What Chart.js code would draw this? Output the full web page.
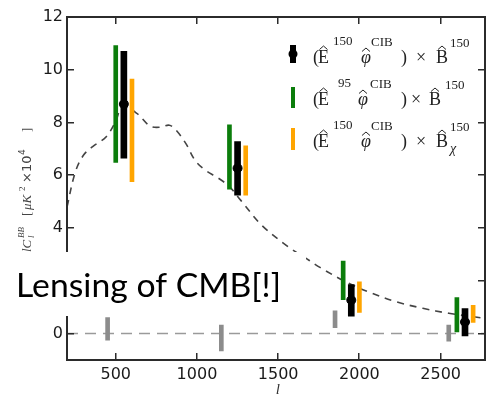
<!DOCTYPE html>
<html>
<head>
<meta charset="utf-8">
<script src="https://cdn.jsdelivr.net/npm/chart.js@4.4.0/dist/chart.umd.min.js"></script>
<style>
  html, body { margin: 0; padding: 0; background: #fff; }
  #wrap { width: 490px; height: 398px; }
</style>
</head>
<body>
<div id="wrap"><canvas id="cl-bb-chart"></canvas></div>
<script>
// multipole bins (small shifts so the three estimators do not overlap)
var binsMain = [550, 1250, 1950, 2650];
var binsE95  = [500, 1200, 1900, 2600];
var binsChi  = [600, 1300, 2000, 2700];
var binsNull = [450, 1150, 1850, 2550];

// (E150 phiCIB) x B150 : centre, low, high
var mainVal  = [8.70, 6.27, 1.27, 0.44];
var mainLow  = [6.65, 5.25, 0.66, -0.09];
var mainHigh = [10.70, 7.28, 1.86, 0.95];

// (E95 phiCIB) x B150
var e95Low  = [6.49, 5.47, 1.29, 0.06];
var e95High = [10.92, 7.91, 2.75, 1.37];

// (E150 phiCIB) x B150_chi
var chiLow  = [5.76, 5.25, 0.80, 0.42];
var chiHigh = [9.65, 7.12, 1.96, 1.07];

// null test (grey)
var nullLow  = [-0.25, -0.66, 0.23, -0.29];
var nullHigh = [0.61, 0.32, 0.86, 0.32];

// lensing B-mode model curve
var modelL = [200, 250, 300, 360, 440, 500, 540, 630, 710, 770, 830, 870, 930, 990, 1050, 1130, 1200, 1270, 1400, 1560, 1660, 1760, 1920, 2060, 2230, 2390, 2550, 2770];
var modelV = [4.8, 6.1, 6.75, 7.1, 7.45, 8.05, 8.6, 8.35, 7.87, 7.82, 7.9, 7.72, 7.22, 6.55, 6.2, 5.9, 5.57, 5.05, 4.1, 3.3, 2.9, 2.5, 1.95, 1.57, 1.2, 0.96, 0.77, 0.58];

var xTicks = [500, 1000, 1500, 2000, 2500];
var yTicks = [0, 2, 4, 6, 8, 10, 12];
var xRange = [200, 2770];
var yRange = [-1, 12];

function ranges(bins, lo, hi) {
    return bins.map(function (l, i) { return { x: l, y: [lo[i], hi[i]] }; });
}
function points(xs, ys) {
    return xs.map(function (l, i) { return { x: l, y: ys[i] }; });
}

// draws a run of text pieces, each at its own x with an optional raise
function richText(ctx, baseY, parts) {
    parts.forEach(function (p) {
        ctx.font = p.font;
        ctx.fillText(p.t, p.x, baseY + (p.dy || 0));
        if (p.hat) {
            var w = ctx.measureText(p.t).width;
            var cx = p.x + w / 2 + (p.hatShift || 0);
            var hy = baseY - p.hat;
            ctx.beginPath();
            ctx.moveTo(cx - 4, hy + 2.5);
            ctx.lineTo(cx, hy - 1);
            ctx.lineTo(cx + 4, hy + 2.5);
            ctx.lineWidth = 1;
            ctx.stroke();
        }
    });
}

var SERIF = '18px "Liberation Serif"';
var ISERIF = 'italic 18px "Liberation Serif"';
var SUP = '13px "Liberation Serif"';

var decor = {
    id: 'decor',
    afterDraw: function (chart) {
        var ctx = chart.ctx;
        var a = chart.chartArea;
        var xs = chart.scales.x, ys = chart.scales.y;
        ctx.save();
        ctx.setLineDash([]);
        ctx.globalAlpha = 1;

        // frame with inward ticks
        ctx.fillStyle = '#2b2b2b';
        var L = Math.round(a.left), T = Math.round(a.top), R = Math.round(a.right), B = Math.round(a.bottom);
        ctx.fillRect(L - 1, T - 1, 2, B - T + 2);
        ctx.fillRect(R - 1, T - 1, 2, B - T + 2);
        ctx.fillRect(L - 1, T - 1, R - L + 2, 2);
        ctx.fillRect(L - 1, B - 1, R - L + 2, 2);
        xTicks.forEach(function (v) {
            var px = Math.round(xs.getPixelForValue(v));
            ctx.fillRect(px - 1, B - 7, 1.5, 6);
            ctx.fillRect(px - 1, T + 1, 1.5, 6);
        });
        yTicks.forEach(function (v) {
            var py = Math.round(ys.getPixelForValue(v));
            ctx.fillRect(L + 1, py - 1, 6, 1.5);
            ctx.fillRect(R - 7, py - 1, 6, 1.5);
        });

        // axis titles
        ctx.fillStyle = '#333';
        ctx.font = 'italic 15px "Liberation Serif"';
        ctx.textAlign = 'center';
        ctx.fillText('l', (a.left + a.right) / 2 + 2, 394);
        ctx.textAlign = 'left';

        ctx.save();
        ctx.translate(31, 252);
        ctx.rotate(-Math.PI / 2);
        ctx.fillStyle = '#444';
        richText(ctx, 0, [
            { t: 'lC', x: 0, font: 'italic 13px "Liberation Serif"' },
            { t: 'BB', x: 14, dy: -7, font: 'italic 9px "Liberation Serif"' },
            { t: 'l', x: 14, dy: 3, font: 'italic 9px "Liberation Serif"' },
            { t: '[', x: 36, font: '13px "Liberation Serif"' },
            { t: 'μK', x: 42, font: 'italic 13px "Liberation Serif"' },
            { t: '2', x: 61, dy: -6, font: '9px "Liberation Serif"' },
            { t: '×10', x: 69, font: '13px "DejaVu Sans"' },
            { t: '4', x: 97, dy: -6, font: '9px "DejaVu Sans"' },
            { t: ']', x: 120, font: '13px "Liberation Serif"' }
        ]);
        ctx.restore();

        // legend
        ctx.fillStyle = '#000';
        ctx.fillRect(290, 45, 6, 18);
        ctx.beginPath();
        ctx.arc(293, 54, 4.5, 0, Math.PI * 2);
        ctx.fill();
        ctx.fillStyle = '#0b7d0b';
        ctx.fillRect(291, 87, 4, 21);
        ctx.fillStyle = '#ffa500';
        ctx.fillRect(291, 128, 4, 22);

        ctx.fillStyle = '#222';
        ctx.strokeStyle = '#222';
        richText(ctx, 63, [
            { t: '(', x: 313, font: SERIF },
            { t: 'E', x: 318, font: SERIF, hat: 16 },
            { t: '150', x: 333, dy: -18, font: SUP },
            { t: 'φ', x: 361, font: ISERIF, hat: 14 },
            { t: 'CIB', x: 371, dy: -17, font: SUP },
            { t: ')', x: 401, font: SERIF },
            { t: '×', x: 416, font: SERIF },
            { t: 'B', x: 436, font: SERIF, hat: 16 },
            { t: '150', x: 450, dy: -16, font: SUP }
        ]);
        richText(ctx, 105, [
            { t: '(', x: 313, font: SERIF },
            { t: 'E', x: 318, font: SERIF, hat: 16 },
            { t: '95', x: 338, dy: -18, font: SUP },
            { t: 'φ', x: 358, font: ISERIF, hat: 14 },
            { t: 'CIB', x: 370, dy: -17, font: SUP },
            { t: ')', x: 401, font: SERIF },
            { t: '×', x: 411, font: SERIF },
            { t: 'B', x: 429, font: SERIF, hat: 16 },
            { t: '150', x: 445, dy: -16, font: SUP }
        ]);
        richText(ctx, 147, [
            { t: '(', x: 313, font: SERIF },
            { t: 'E', x: 318, font: SERIF, hat: 16 },
            { t: '150', x: 333, dy: -18, font: SUP },
            { t: 'φ', x: 361, font: ISERIF, hat: 14 },
            { t: 'CIB', x: 371, dy: -17, font: SUP },
            { t: ')', x: 401, font: SERIF },
            { t: '×', x: 416, font: SERIF },
            { t: 'B', x: 436, font: SERIF, hat: 16 },
            { t: '150', x: 450, dy: -16, font: SUP },
            { t: 'χ', x: 450, dy: 6, font: 'italic 14px "Liberation Serif"' }
        ]);

        // white label box pasted over the plot
        ctx.fillStyle = '#fff';
        ctx.fillRect(0, 252, 306, 64);
        ctx.fillStyle = '#000';
        ctx.font = '33px Lato';
        var label = 'Lensing of CMB[!]';
        var w = ctx.measureText(label).width;
        ctx.save();
        ctx.translate(16, 297);
        ctx.scale(265 / w, 1);
        ctx.fillText(label, 0, 0);
        ctx.restore();

        ctx.restore();
    }
};

var ctx = document.getElementById('cl-bb-chart');

var config = {
    type: 'bar',
    data: {
        datasets: [
            {
                type: 'line',
                label: 'model',
                data: points(modelL, modelV),
                borderColor: '#444',
                borderWidth: 1.6,
                borderDash: [7, 6],
                pointRadius: 0,
                tension: 0.35,
                order: 10
            },
            {
                type: 'line',
                label: 'zero',
                data: points(xRange, [0, 0]),
                borderColor: '#9a9a9a',
                borderWidth: 1.5,
                borderDash: [11, 7],
                pointRadius: 0,
                order: 9
            },
            {
                label: 'null',
                data: ranges(binsNull, nullLow, nullHigh),
                backgroundColor: '#8c8c8c',
                barThickness: 4,
                order: 5
            },
            {
                label: 'E95',
                data: ranges(binsE95, e95Low, e95High),
                backgroundColor: '#0b7d0b',
                barThickness: 4,
                order: 4
            },
            {
                label: 'chi',
                data: ranges(binsChi, chiLow, chiHigh),
                backgroundColor: '#ffa500',
                barThickness: 4,
                order: 3
            },
            {
                label: 'E150',
                data: ranges(binsMain, mainLow, mainHigh),
                backgroundColor: '#000',
                barThickness: 6,
                order: 2
            },
            {
                type: 'scatter',
                label: 'E150 points',
                data: points(binsMain, mainVal),
                backgroundColor: '#000',
                borderColor: '#000',
                pointRadius: 4.5,
                order: 1
            }
        ]
    },
    options: {
        responsive: true,
        maintainAspectRatio: false,
        animation: false,
        layout: { padding: { top: 17, right: 1, left: 0, bottom: 0 } },
        datasets: { bar: { grouped: false, borderWidth: 0 } },
        plugins: { legend: { display: false }, tooltip: { enabled: false } },
        scales: {
            x: {
                type: 'linear',
                min: xRange[0],
                max: xRange[1],
                offset: false,
                grid: { display: false, drawTicks: false },
                border: { display: false },
                afterBuildTicks: function (s) { s.ticks = xTicks.map(function (v) { return { value: v }; }); },
                afterFit: function (s) { s.height = 38; },
                ticks: {
                    padding: 5, maxRotation: 0, color: '#1a1a1a',
                    font: { family: '"DejaVu Sans"', size: 16 },
                    callback: function (v) { return String(v); }
                }
            },
            y: {
                type: 'linear',
                min: yRange[0],
                max: yRange[1],
                grid: { display: false, drawTicks: false },
                border: { display: false },
                afterBuildTicks: function (s) { s.ticks = yTicks.map(function (v) { return { value: v }; }); },
                afterFit: function (s) { s.width = 67; },
                ticks: {
                    padding: 4, color: '#1a1a1a',
                    font: { family: '"DejaVu Sans"', size: 16 },
                    callback: function (v) { return String(v); }
                }
            }
        }
    },
    plugins: [decor]
};

var chart = new Chart(ctx, config);
</script>
</body>
</html>
